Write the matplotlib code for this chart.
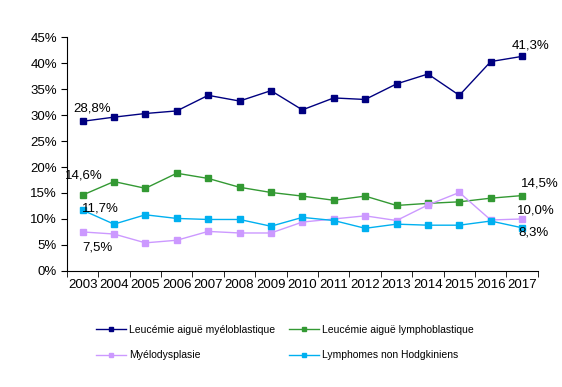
import matplotlib.pyplot as plt
import numpy as np

plt.rcParams['font.family'] = ['Liberation Sans', 'DejaVu Sans']

# Données
annees = ['2003', '2004', '2005', '2006', '2007', '2008', '2009', '2010',
          '2011', '2012', '2013', '2014', '2015', '2016', '2017']
lam = [28.8, 29.6, 30.3, 30.8, 33.8, 32.7, 34.7, 31.0, 33.3, 33.0, 36.0, 37.9, 33.8, 40.3, 41.3]
lal = [14.6, 17.2, 15.9, 18.8, 17.8, 16.1, 15.1, 14.4, 13.6, 14.4, 12.6, 13.0, 13.3, 14.0, 14.5]
mds = [7.5, 7.1, 5.4, 5.9, 7.6, 7.3, 7.3, 9.4, 10.0, 10.6, 9.7, 12.7, 15.1, 9.8, 10.0]
lnh = [11.7, 9.0, 10.8, 10.1, 9.9, 9.9, 8.6, 10.3, 9.7, 8.2, 9.0, 8.8, 8.8, 9.6, 8.3]
noms = ['Leucémie aiguë myéloblastique', 'Leucémie aiguë lymphoblastique',
        'Myélodysplasie', 'Lymphomes non Hodgkiniens']
couleurs = ['#000080', '#339933', '#CC99FF', '#00B0F0']

fig = plt.figure(figsize=(5.62, 3.87), dpi=100)
ax = fig.add_axes([0.119, 0.300, 0.838, 0.604])

x = np.arange(len(annees))
lignes = []
for serie, nom, c in zip([lam, lal, mds, lnh], noms, couleurs):
    l, = ax.plot(x, serie, color=c, lw=1, marker='s', ms=5, label=nom)
    lignes.append(l)

# Étiquettes de valeurs (premier et dernier point)
def fmt(v):
    return f'{v:.1f}%'.replace('.', ',')

etiq = [(lam, (7, 9.5), (6, 8)),
        (lal, (1, 14), (13, 8.5)),
        (mds, (11, -11.5), (9.5, 6)),
        (lnh, (13, 1.5), (8, -3.5))]
for serie, d0, d1 in etiq:
    ax.annotate(fmt(serie[0]), (0, serie[0]), xytext=d0, textcoords='offset points',
                ha='center', va='center', fontsize=9.5)
    ax.annotate(fmt(serie[-1]), (14, serie[-1]), xytext=d1, textcoords='offset points',
                ha='center', va='center', fontsize=9.5)

ax.set_xlim(-0.5, 14.5)
ax.set_ylim(0, 45)
ax.set_yticks(np.arange(0, 46, 5))
ax.set_yticklabels([f'{v}%' for v in range(0, 46, 5)], fontsize=9.5)
ax.set_xticks(x)
ax.set_xticklabels(annees, fontsize=9.5)
ax.set_xticks(np.arange(-0.5, 15, 1), minor=True)
ax.tick_params(axis='x', which='major', length=0, pad=6)
ax.tick_params(axis='x', which='minor', length=4)
ax.tick_params(axis='y', length=4, pad=3)
ax.spines['top'].set_visible(False)
ax.spines['right'].set_visible(False)

# ordre : ligne 1 = LAM, LAL ; ligne 2 = MDS, LNH
ordre = [lignes[0], lignes[2], lignes[1], lignes[3]]
fig.legend(handles=ordre, labels=[l.get_label() for l in ordre], loc='upper left',
           bbox_to_anchor=(0.155, 0.185), ncol=2, frameon=False, fontsize=7.5,
           handlelength=2.8, columnspacing=1.4, labelspacing=1.5,
           handletextpad=0.3, markerscale=0.7)

plt.savefig('out.png', dpi=100)
